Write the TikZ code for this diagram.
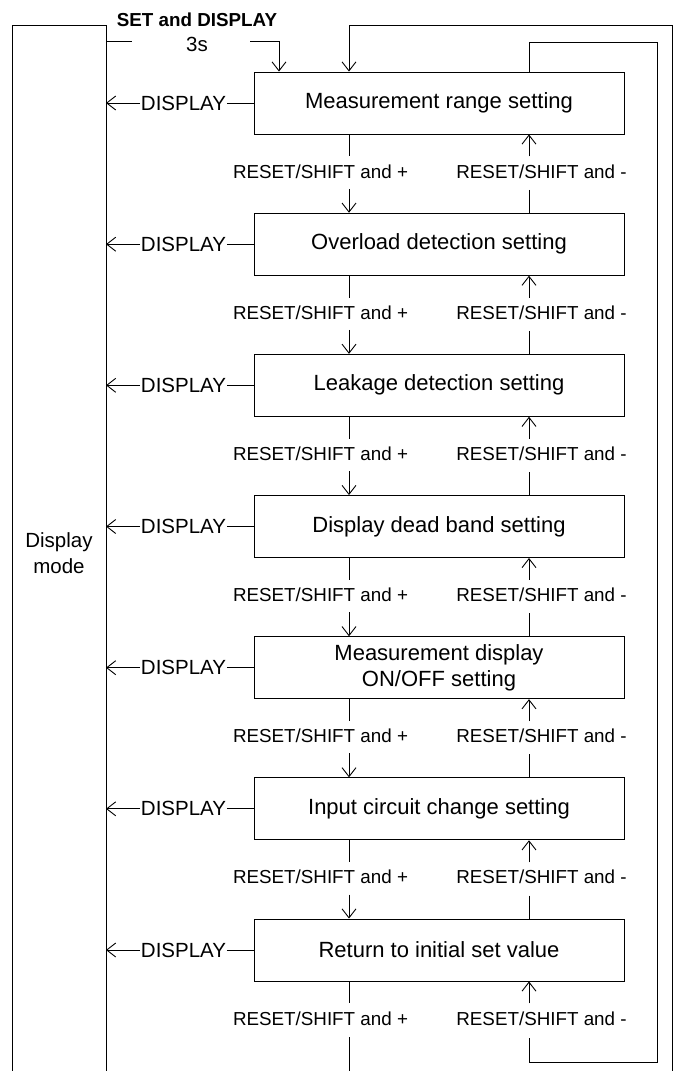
\documentclass[tikz,border=0pt]{standalone}
\usepackage{fontspec}
\setmainfont{Liberation Sans}
\usetikzlibrary{arrows.meta,calc}
\begin{document}
\begin{tikzpicture}[x=1pt,y=-1pt,line width=0.9pt,
  box/.style={draw,minimum width=370pt,minimum height=62pt,inner sep=0pt,align=center,font=\fontsize{22}{26}\selectfont},
  lbl/.style={inner sep=0pt,font=\fontsize{18.8}{21}\selectfont},
  disp/.style={inner sep=0.5pt,font=\fontsize{20.5}{24}\selectfont},
  arr/.style={-{Straight Barb[length=9pt,width=14pt,line width=0.9pt]}}]
\useasboundingbox (0,0) rectangle (675,1071);
% display mode column
\draw (12,1071) -- (12,25) -- (106,25) -- (106,1071);
\node[disp,align=center,font=\fontsize{20.5}{26}\selectfont] (dm) at (59,553) {Display\\mode};
\coordinate (ml) at (106,0);
\coordinate (dx) at (349,0);
\coordinate (ux) at (529,0);
% boxes
\node[box] (b1) at (439,103)   {Measurement range setting};
\node[box] (b2) at (439,244.2) {Overload detection setting};
\node[box] (b3) at (439,385.3) {Leakage detection setting};
\node[box] (b4) at (439,526.5) {Display dead band setting};
\node[box] (b5) at (439,667.7) {Measurement display\\ON/OFF setting};
\node[box] (b6) at (439,808.8) {Input circuit change setting};
\node[box] (b7) at (439,950)   {Return to initial set value};
% DISPLAY arrows
\foreach \i in {1,...,7}{
  \node[disp] (d\i) at (b\i.center -| 183.5,0) {DISPLAY};
  \draw[arr] (d\i.west) -- (d\i.west -| ml);
  \draw (d\i.east) -- (b\i.west);
}
% transitions between boxes
\foreach \i in {1,...,6}{
  \pgfmathtruncatemacro\j{\i+1}
  \draw (b\i.south -| dx) -- ++(0,22);
  \node[lbl] (lp\i) at ($(b\i.south -| dx)+(-28.5,37)$) {RESET/SHIFT and +};
  \draw[arr] ($(b\j.north -| dx)+(0,-24)$) -- (b\j.north -| dx);
  \draw[arr] ($(b\i.south -| ux)+(0,22)$) -- (b\i.south -| ux);
  \node[lbl] (lm\i) at ($(b\i.south -| ux)+(12.5,37)$) {RESET/SHIFT and -};
  \draw ($(b\j.north -| ux)+(0,-23)$) -- (b\j.north -| ux);
}
% last box
\draw (b7.south -| dx) -- ++(0,22);
\node[lbl] (lp7) at ($(b7.south -| dx)+(-28.5,37)$) {RESET/SHIFT and +};
\draw ($(b7.south -| dx)+(0,56)$) -- (349,1071);
\draw[arr] ($(b7.south -| ux)+(0,22)$) -- (b7.south -| ux);
\node[lbl] (lm7) at ($(b7.south -| ux)+(12.5,37)$) {RESET/SHIFT and -};
\draw ($(b7.south -| ux)+(0,57)$) -- (529,1062) -- (657,1062) -- (657,42) -- (529,42) -- (b1.north -| ux);
% outer loop
\draw[arr] (672,1071) -- (672,25) -- (349,25) -- (b1.north -| dx);
% entry
\node[inner sep=0pt,font=\bfseries\fontsize{18.8}{21}\selectfont] (setd) at (197,20) {SET and DISPLAY};
\node[inner sep=0pt,font=\fontsize{20.5}{22}\selectfont] (t3) at (197,44) {3s};
\draw (106,41) -- (132,41);
\draw[arr] (250,41) -- (279,41) -- (b1.north -| 279,0);
\end{tikzpicture}
\end{document}
